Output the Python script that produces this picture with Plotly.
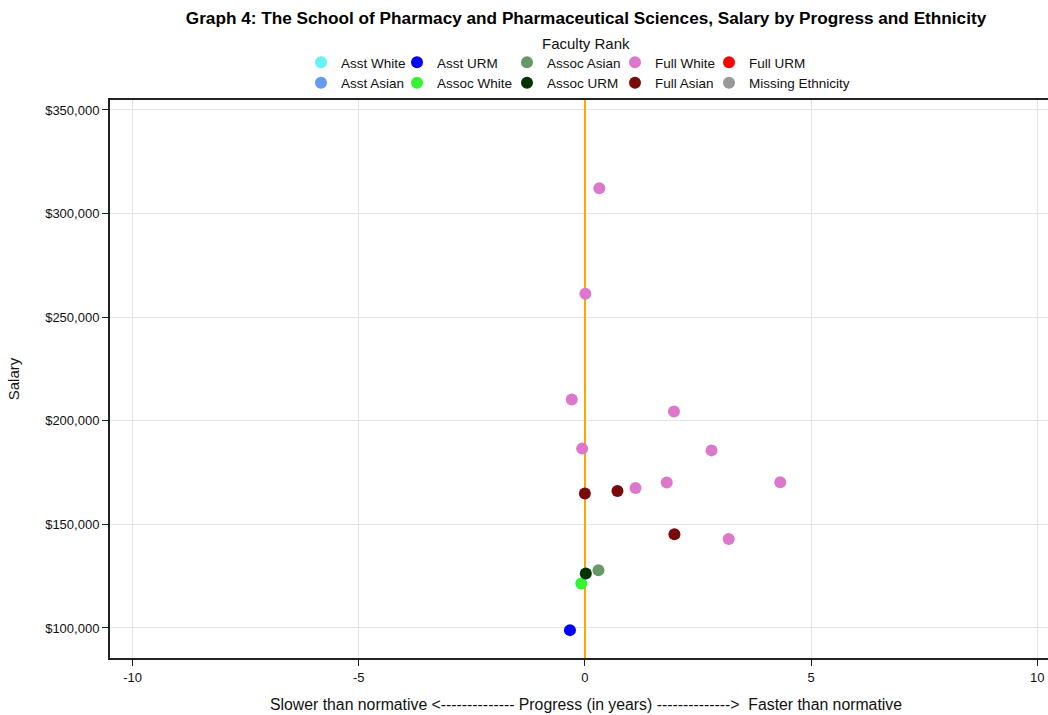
import plotly.graph_objects as go

# ---- data ----
categories = ["Asst White", "Asst Asian", "Asst URM",
              "Assoc White", "Assoc Asian", "Assoc URM",
              "Full White", "Full Asian", "Full URM", "Missing Ethnicity"]
colors = ["#66f2f5", "#6699f0", "#0000ff",
          "#33f533", "#669966", "#003300",
          "#dd77cc", "#7a0a0a", "#ff0000", "#999999"]

# categories with no faculty hold a single null so they still get a legend entry
progress = {
    "Asst White": [None],
    "Asst Asian": [None],
    "Asst URM": [-0.33],
    "Assoc White": [-0.08],
    "Assoc Asian": [0.30],
    "Assoc URM": [0.02],
    "Full White": [0.32, 0.01, -0.29, 1.97, -0.06, 2.80, 1.12, 1.81, 4.32, 3.18],
    "Full Asian": [0.00, 0.72, 1.98],
    "Full URM": [None],
    "Missing Ethnicity": [None],
}
salary = {
    "Asst White": [None],
    "Asst Asian": [None],
    "Asst URM": [98950],
    "Assoc White": [121450],
    "Assoc Asian": [127850],
    "Assoc URM": [126300],
    "Full White": [312200, 261300, 210300, 204500, 186550, 185700, 167550, 170150, 170300, 142950],
    "Full Asian": [164850, 166100, 145200],
    "Full URM": [None],
    "Missing Ethnicity": [None],
}

x_ticks = [-10, -5, 0, 5, 10]
y_ticks = [100000, 150000, 200000, 250000, 300000, 350000]

title_text = "Graph 4: The School of Pharmacy and Pharmaceutical Sciences, Salary by Progress and Ethnicity"
x_title = "Slower than normative <-------------- Progress (in years) -------------->  Faster than normative"
y_title = "Salary"
legend_title = "Faculty Rank"

W, H = 1048, 715
ML, MR, MT, MB = 110, 0, 100, 57
PW, PH = W - ML - MR, H - MT - MB
FONT = "Liberation Sans, Arial, sans-serif"


def px_to_paper(px, py):
    return (px - ML) / PW, (H - MB - py) / PH


fig = go.Figure()

# legend columns (two items per column, column-major order)
col_left_px = [301, 397, 507, 615, 709]
legend_names = ["legend", "legend2", "legend3", "legend4", "legend5"]

for i, cat in enumerate(categories):
    col = i // 2
    fig.add_trace(go.Scatter(
        x=progress[cat], y=salary[cat], mode="markers", name=cat,
        marker=dict(color=colors[i], size=12, line=dict(width=0)),
        legend=legend_names[col], showlegend=True,
    ))

layout_legends = {}
for c, ln in enumerate(legend_names):
    lgx, lgy = px_to_paper(col_left_px[c], 47)
    layout_legends[ln] = dict(
        xref="paper", yref="paper",
        x=lgx, y=lgy, xanchor="left", yanchor="top",
        orientation="v", bgcolor="rgba(0,0,0,0)", borderwidth=0,
        font=dict(family=FONT, size=13.5, color="#111"),
        tracegroupgap=0, itemwidth=30,
    )

lx, ly = px_to_paper(586, 44)
fig.add_annotation(text=legend_title, xref="paper", yref="paper",
                   x=lx, y=ly, xanchor="center", yanchor="middle",
                   showarrow=False, font=dict(family=FONT, size=15, color="#111"))
tx, ty = px_to_paper(586, 704)
fig.add_annotation(text=x_title, xref="paper", yref="paper",
                   x=tx, y=ty, xanchor="center", yanchor="middle",
                   showarrow=False, font=dict(family=FONT, size=15.8, color="#111"))

fig.update_layout(
    width=W, height=H, showlegend=True,
    margin=dict(l=ML, r=MR, t=MT, b=MB, autoexpand=False),
    paper_bgcolor="white", plot_bgcolor="white",
    title=dict(text=title_text, xref="container", yref="container",
               x=586 / W, y=1 - 18 / H, xanchor="center", yanchor="middle",
               font=dict(family=FONT, size=17.2, color="#000", weight="bold")),
    font=dict(family=FONT, size=13, color="#111"),
    xaxis=dict(range=[-10.5, 10.24], tickvals=x_ticks, ticktext=[str(v) for v in x_ticks],
               showgrid=True, gridcolor="#e4e4e4", gridwidth=1,
               zeroline=True, zerolinecolor="#ffa500", zerolinewidth=2,
               showline=True, linecolor="#222", linewidth=2, mirror=True,
               ticks="outside", ticklen=6, tickcolor="#222", tickwidth=1,
               tickfont=dict(family=FONT, size=13, color="#111")),
    yaxis=dict(range=[85500, 354800], tickvals=y_ticks, tickformat="$,.0f",
               showgrid=True, gridcolor="#e4e4e4", gridwidth=1, zeroline=False,
               showline=True, linecolor="#222", linewidth=2, mirror=False,
               ticks="outside", ticklen=6, tickcolor="#222", tickwidth=1,
               tickfont=dict(family=FONT, size=13, color="#111"),
               title=dict(text=y_title, standoff=22, font=dict(family=FONT, size=15, color="#111"))),
    **layout_legends,
)

fig.write_html("out.html", post_script="document.body.style.margin='0';",
               config={"displayModeBar": False})
